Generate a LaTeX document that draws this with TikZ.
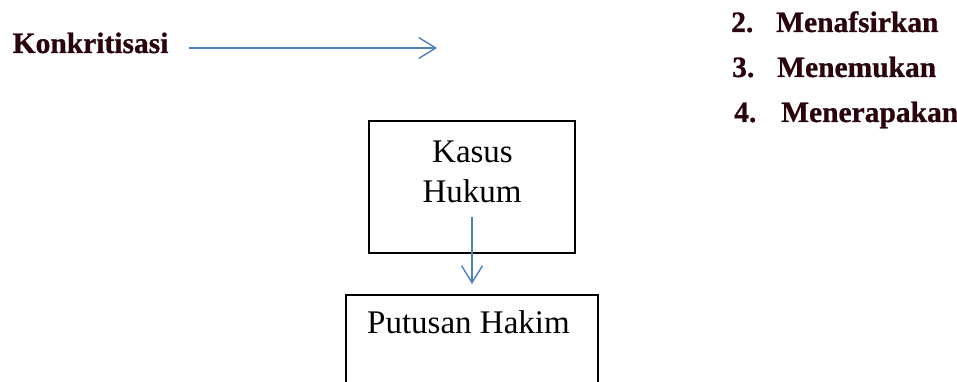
\documentclass[tikz,border=0pt]{standalone}
\usepackage{fontspec}
\setmainfont{Liberation Serif}
\newfontfamily\heavyserif{Liberation Serif}[BoldFeatures={FakeBold=0.8}]
\usetikzlibrary{arrows.meta}
\definecolor{arrblue}{RGB}{79,129,189}
\definecolor{darktext}{RGB}{42,5,14}
\tikzset{
  arr/.style={draw=arrblue, line width=1.4pt, -{Straight Barb[length=17pt,width=21pt,line width=1.4pt]}},
  boxstyle/.style={draw=black, line width=1.8pt, rectangle, inner sep=0pt},
  boldlabel/.style={font=\fontsize{29.5}{34}\heavyserif\bfseries, text=darktext, inner sep=0pt, anchor=base west},
  plain/.style={font=\fontsize{33}{39}\selectfont, text=black, inner sep=0pt, anchor=base},
}
\begin{document}
\begin{tikzpicture}[x=1pt,y=-1pt]
\useasboundingbox (0,0) rectangle (957,382);
\clip (0,0) rectangle (957,382);
\fill[white] (0,0) rectangle (957,382);
% left label and arrow
\node[boldlabel] (konk) at (12.5,53) {Konkritisasi};
\coordinate (kend) at (437,48);
\draw[arr, shorten <=20pt] (konk.east |- kend) -- (kend);
% right list
\node[boldlabel] (l2) at (731,32) {\makebox[45pt][l]{2.}Menafsirkan};
\node[boldlabel] (l3) at (732,77) {\makebox[45pt][l]{3.}Menemukan};
\node[boldlabel] (l4) at (734,122) {\makebox[47pt][l]{4.}Menerapakan};
% boxes
\node[boxstyle, minimum width=206pt, minimum height=132pt] (kbox) at (472,187) {};
\node[plain] (kasus) at (472.5,163) {Kasus};
\node[plain] (hukum) at (472,202) {Hukum};
\node[boxstyle, minimum width=252pt, minimum height=130pt, anchor=north] (pbox) at (472,294) {};
\node[plain] (putusan) at (468.5,333) {Putusan Hakim};
\draw[arr, shorten <=14pt, shorten >=10pt] (hukum.south) -- (pbox.north);
\end{tikzpicture}
\end{document}
